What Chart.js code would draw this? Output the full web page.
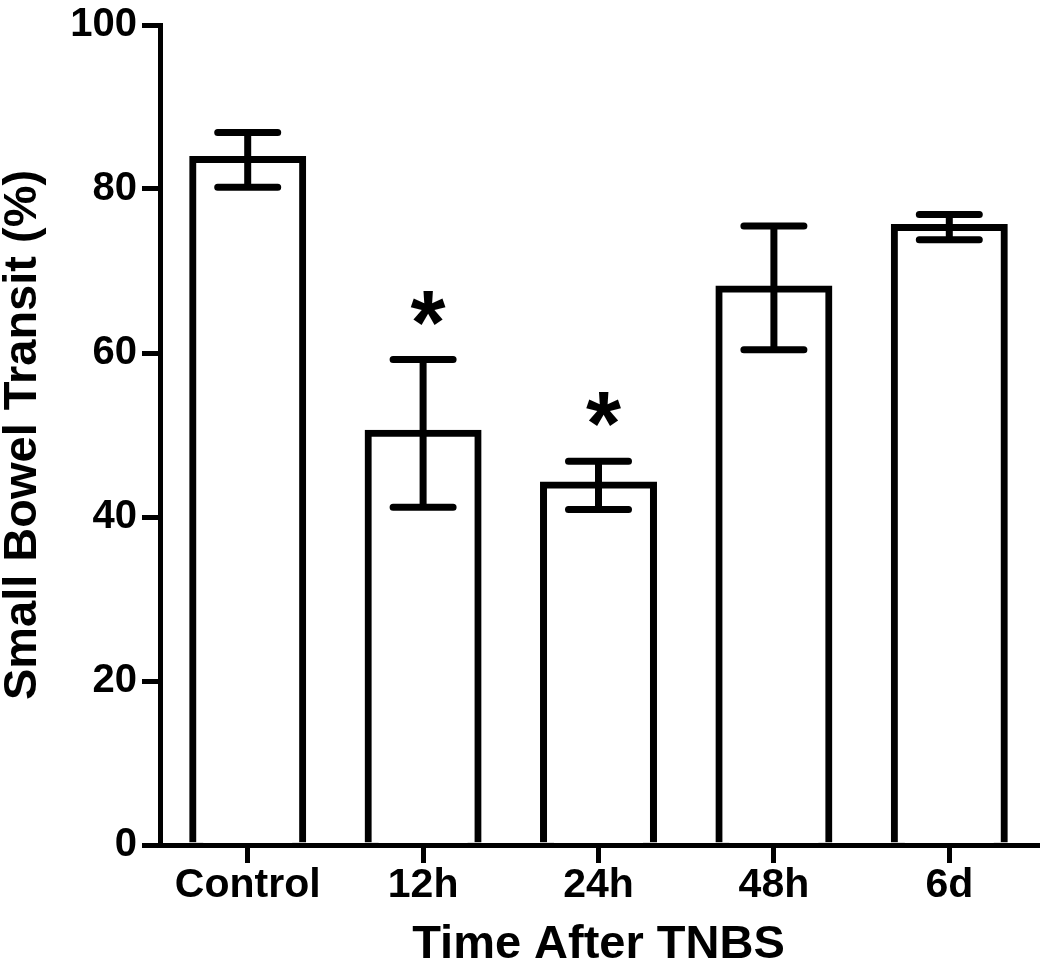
<!DOCTYPE html>
<html>
<head>
<meta charset="utf-8">
<script src="https://cdn.jsdelivr.net/npm/chart.js@4/dist/chart.umd.min.js"></script>
<style>
  body { margin: 0; background: #fff; }
</style>
</head>
<body>
<canvas id="transitChart" width="1050" height="976"></canvas>
<script>
// Small bowel transit after TNBS (mean with error bars)
const categories = ['Control', '12h', '24h', '48h', '6d'];
const means = [83.6, 50.2, 43.9, 67.8, 75.3];
const upperErr = [86.9, 59.2, 46.8, 75.5, 76.9];
const lowerErr = [80.2, 41.2, 40.9, 60.4, 73.8];
const stars = ['', '*', '*', '', ''];
const yTicks = [0, 20, 40, 60, 80, 100];

const FONT = "'Liberation Sans', Arial, Helvetica, sans-serif";

// draws the error bars and the asterisks above them
const errorBars = {
    id: 'errorBars',
    afterDatasetsDraw(chart) {
        const ctx = chart.ctx;
        const yScale = chart.scales.y;
        const meta = chart.getDatasetMeta(0);
        ctx.save();
        ctx.strokeStyle = '#000';
        ctx.lineWidth = 7;
        ctx.lineCap = 'round';
        meta.data.forEach((bar, i) => {
            const x = bar.x;
            const yHi = yScale.getPixelForValue(upperErr[i]);
            const yLo = yScale.getPixelForValue(lowerErr[i]);
            ctx.beginPath();
            ctx.moveTo(x, yHi);
            ctx.lineTo(x, yLo);
            ctx.moveTo(x - 30, yHi);
            ctx.lineTo(x + 30, yHi);
            ctx.moveTo(x - 30, yLo);
            ctx.lineTo(x + 30, yLo);
            ctx.stroke();

            if (stars[i]) {
                ctx.font = 'bold 90px ' + FONT;
                ctx.fillStyle = '#000';
                ctx.textAlign = 'center';
                ctx.textBaseline = 'alphabetic';
                const m = ctx.measureText(stars[i]);
                // centre the glyph itself on cy
                const cy = yHi - 52;
                ctx.fillText(stars[i], x + 5, cy + (m.actualBoundingBoxAscent - m.actualBoundingBoxDescent) / 2);
            }
        });
        ctx.restore();
    }
};

const transitChart = new Chart(document.getElementById('transitChart').getContext('2d'), {
    type: 'bar',
    data: {
        labels: categories,
        datasets: [{
            data: means,
            backgroundColor: '#fff',
            borderColor: '#000',
            borderWidth: 7,
            inflateAmount: 3.5,
            barPercentage: 0.627,
            categoryPercentage: 1.0
        }]
    },
    options: {
        responsive: false,
        animation: false,
        layout: {
            padding: { top: 22, right: 13, left: 0, bottom: 0 }
        },
        scales: {
            x: {
                grid: {
                    display: true,
                    drawOnChartArea: false,
                    offset: false,
                    tickLength: 18,
                    color: '#000',
                    lineWidth: 5
                },
                border: { display: true, color: '#000', width: 5 },
                ticks: {
                    color: '#000',
                    padding: 2,
                    font: { family: FONT, size: 41, weight: 'bold', lineHeight: 1 }
                },
                title: {
                    display: true,
                    text: 'Time After TNBS',
                    color: '#000',
                    padding: { top: 0, bottom: 7 },
                    font: { family: FONT, size: 47, weight: 'bold', lineHeight: 1 }
                },
                afterFit(scale) {
                    scale.height = 131;
                }
            },
            y: {
                min: 0,
                max: 100,
                afterBuildTicks(scale) {
                    scale.ticks = yTicks.map(v => ({ value: v }));
                },
                grid: {
                    display: true,
                    drawOnChartArea: false,
                    tickLength: 18,
                    color: '#000',
                    lineWidth: 5
                },
                border: { display: true, color: '#000', width: 5 },
                ticks: {
                    color: '#000',
                    padding: 5,
                    font: { family: FONT, size: 40, weight: 'bold', lineHeight: 1 }
                },
                title: {
                    display: true,
                    text: 'Small Bowel Transit (%)',
                    color: '#000',
                    padding: { top: 0, bottom: 0 },
                    font: { family: FONT, size: 47, weight: 'bold', lineHeight: 1 }
                },
                afterFit(scale) {
                    scale.width = 160;
                }
            }
        },
        plugins: {
            legend: { display: false },
            tooltip: { enabled: false }
        }
    },
    plugins: [errorBars]
});
</script>
</body>
</html>
